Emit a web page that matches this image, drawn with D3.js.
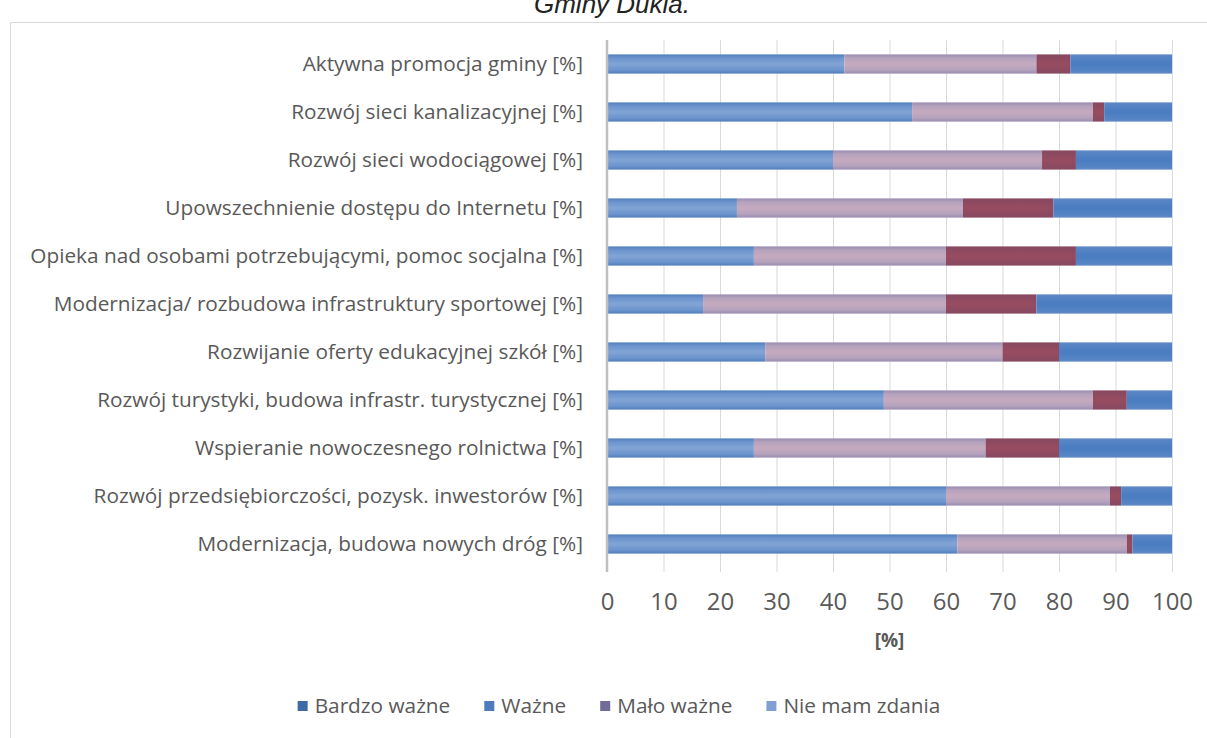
<!DOCTYPE html>
<html><head><meta charset="utf-8">
<script src="https://cdn.jsdelivr.net/npm/d3@7"></script>
<style>
html,body{margin:0;padding:0;background:#fff;}
svg{display:block;}
</style></head>
<body>
<svg id="c" width="1207" height="738"></svg>
<script>
const categories = [
  "Aktywna promocja gminy [%]",
  "Rozwój sieci kanalizacyjnej [%]",
  "Rozwój sieci wodociągowej [%]",
  "Upowszechnienie dostępu do Internetu [%]",
  "Opieka nad osobami potrzebującymi, pomoc socjalna [%]",
  "Modernizacja/ rozbudowa infrastruktury sportowej [%]",
  "Rozwijanie oferty edukacyjnej szkół [%]",
  "Rozwój turystyki, budowa infrastr. turystycznej [%]",
  "Wspieranie nowoczesnego rolnictwa [%]",
  "Rozwój przedsiębiorczości, pozysk. inwestorów [%]",
  "Modernizacja, budowa nowych dróg [%]"
];
const seriesNames = ["Bardzo ważne", "Ważne", "Mało ważne", "Nie mam zdania"];
const bardzoWazne  = [42, 54, 40, 23, 26, 17, 28, 49, 26, 60, 62];
const wazne        = [34, 32, 37, 40, 34, 43, 42, 37, 41, 29, 30];
const maloWazne    = [ 6,  2,  6, 16, 23, 16, 10,  6, 13,  2,  1];
const nieMamZdania = [18, 12, 17, 21, 17, 24, 20,  8, 20,  9,  7];
const xTicks = [0, 10, 20, 30, 40, 50, 60, 70, 80, 90, 100];
const titleText = "Gminy Dukla.";
const axisTitle = "[%]";

const svg = d3.select("#c");
const W = 1207, H = 738;
const pL = 607, pR = 1172, pT = 40, pB = 568;
const textCol = "#595959";
const font = "'Open Sans', sans-serif";

// chart border
svg.append("path").attr("d", `M10.5,${H} L10.5,22.5 L${W},22.5`)
  .attr("fill", "none").attr("stroke", "#d9d9d9").attr("stroke-width", 1);

// title (cut at top, as in the reference)
svg.append("text").attr("x", 612).attr("y", 13).attr("text-anchor", "middle")
  .attr("font-family", "'Liberation Sans', Arial, sans-serif").attr("font-style", "italic")
  .attr("font-size", 26).attr("fill", "#222").text(titleText);

const rows = categories.map((c, i) => ({
  cat: c,
  [seriesNames[0]]: bardzoWazne[i],
  [seriesNames[1]]: wazne[i],
  [seriesNames[2]]: maloWazne[i],
  [seriesNames[3]]: nieMamZdania[i]
}));
const stacked = d3.stack().keys(seriesNames)(rows);

const x = d3.scaleLinear().domain([0, 100]).range([pL, pR]);
const y = d3.scaleBand().domain(categories).range([pT, pB]).paddingInner(0.6).paddingOuter(0.3);

// gradients
const defs = svg.append("defs");
const gradStops = [
  [[0,"#4f7fbe"],[0.18,"#6c94cc"],[0.5,"#82a5d6"],[0.82,"#6c94cc"],[1,"#4f7fbe"]],
  [[0,"#9a8db1"],[0.2,"#b6a2bd"],[0.5,"#c6abbf"],[0.8,"#b6a2bd"],[1,"#9a8db1"]],
  [[0,"#874860"],[0.5,"#974c60"],[1,"#874860"]],
  [[0,"#5b88c6"],[0.5,"#4a7cc0"],[1,"#5b88c6"]]
];
gradStops.forEach((st, k) => {
  const g = defs.append("linearGradient").attr("id", "g" + k)
    .attr("x1", 0).attr("y1", 0).attr("x2", 0).attr("y2", 1);
  st.forEach(s => g.append("stop").attr("offset", s[0]).attr("stop-color", s[1]));
});

// gridlines
const grid = svg.append("g");
grid.selectAll("line").data(xTicks.slice(1)).join("line")
  .attr("x1", d => x(d) + 0.5).attr("x2", d => x(d) + 0.5)
  .attr("y1", pT).attr("y2", pB + 4)
  .attr("stroke", "#d9d9d9").attr("stroke-width", 1);

// bars
svg.append("g").selectAll("g").data(stacked).join("g")
  .attr("fill", (d, k) => `url(#g${k})`)
  .selectAll("rect").data(d => d).join("rect")
  .attr("x", d => x(d[0])).attr("width", d => x(d[1]) - x(d[0]))
  .attr("y", d => y(d.data.cat)).attr("height", y.bandwidth());

// y axis line
svg.append("line").attr("x1", pL).attr("x2", pL).attr("y1", pT).attr("y2", pB + 4)
  .attr("stroke", "#bfbfbf").attr("stroke-width", 2.5);

// category labels
const yAxis = svg.append("g").attr("transform", `translate(${pL - 24},0)`)
  .call(d3.axisLeft(y).tickSize(0).tickPadding(0));
yAxis.select(".domain").remove();
yAxis.selectAll("text").attr("font-family", font).attr("font-size", 19)
  .attr("fill", textCol).attr("dy", "0.35em");

// fit label font to the reference width of the longest label
let maxW = 0;
yAxis.selectAll("text").each(function(){ maxW = Math.max(maxW, this.getComputedTextLength()); });
const fs = 19 * 553 / maxW;
yAxis.selectAll("text").attr("font-size", fs);

// x axis
const xAxis = svg.append("g").attr("transform", `translate(0,${pB + 4})`)
  .call(d3.axisBottom(x).tickValues(xTicks).tickSize(0).tickPadding(0));
xAxis.select(".domain").remove();
xAxis.selectAll("text").attr("font-family", font).attr("font-size", fs * 1.15)
  .attr("fill", textCol).attr("dy", 0).attr("y", 38);

// axis title
svg.append("text").attr("x", (pL + pR) / 2).attr("y", 647).attr("text-anchor", "middle")
  .attr("font-family", font).attr("font-weight", "bold").attr("font-size", 19)
  .attr("fill", textCol).text(axisTitle);

// legend
const legendColors = ["#3e6ba8", "#4d7bbb", "#716b9c", "#819fd3"];
const lg = svg.append("g");
const items = lg.selectAll("g").data(seriesNames).join("g");
items.append("rect").attr("width", 10).attr("height", 10).attr("y", -5)
  .attr("fill", (d, i) => legendColors[i]);
items.append("text").attr("x", 17).attr("dy", "0.35em").attr("font-family", font)
  .attr("font-size", fs).attr("fill", textCol).text(d => d);
let cx = 0;
const pos = [];
items.each(function(){ pos.push(cx); cx += 17 + this.querySelector("text").getComputedTextLength() + 34; });
const totalW = cx - 34;
const startX = 619 - totalW / 2;
items.attr("transform", (d, i) => `translate(${startX + pos[i]},706)`);
</script>
</body></html>
